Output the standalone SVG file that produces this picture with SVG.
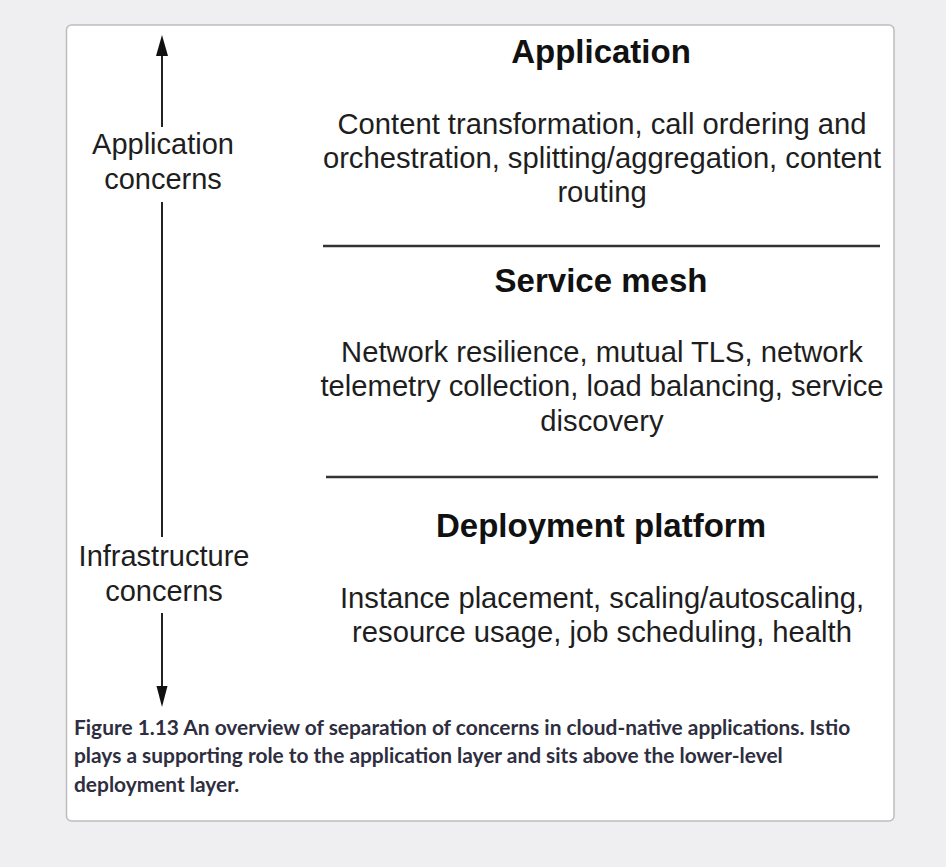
<svg xmlns="http://www.w3.org/2000/svg" width="946" height="867" viewBox="0 0 946 867">
<style>
.body{font-family:"Liberation Sans",Arial,sans-serif;font-size:29.2px;fill:#1e1e1e;text-anchor:middle}
.lbl{font-family:"Liberation Sans",Arial,sans-serif;font-size:29px;fill:#1e1e1e;text-anchor:middle}
.title{font-family:"Liberation Sans",Arial,sans-serif;font-size:33px;font-weight:bold;fill:#111;text-anchor:middle}
.cap{font-family:Lato,"Liberation Sans",sans-serif;font-size:20.9px;font-weight:bold;fill:#2e2e40}
.sep{stroke:#333;stroke-width:2.5}
.axis{stroke:#222;stroke-width:2;fill:none}
</style>
<rect width="946" height="867" fill="#efeff1"/>
<rect x="66.5" y="25" width="827.5" height="796" rx="5" fill="#fff" stroke="#bdbdbd" stroke-width="1.5"/>
<g id="connectors">
<line class="axis" x1="162" y1="56" x2="162" y2="127"/>
<path d="M156,56 L162,35 L168,56 Z" fill="#111"/>
<line class="axis" x1="162" y1="202" x2="162" y2="537"/>
<line class="axis" x1="162" y1="613" x2="162" y2="686"/>
<path d="M156.5,686 L162,707 L167.5,686 Z" fill="#111"/>
</g>
<g id="left-labels">
<text class="lbl" x="163" y="154">Application</text>
<text class="lbl" x="163" y="189">concerns</text>
<text class="lbl" x="164" y="566">Infrastructure</text>
<text class="lbl" x="164" y="601">concerns</text>
</g>
<g id="application">
<text class="title" x="601" y="63">Application</text>
<text class="body" x="602" y="134">Content transformation, call ordering and</text>
<text class="body" x="602" y="168">orchestration, splitting/aggregation, content</text>
<text class="body" x="602" y="202">routing</text>
</g>
<line class="sep" x1="323" y1="246" x2="880" y2="246"/>
<g id="service-mesh">
<text class="title" x="601" y="292">Service mesh</text>
<text class="body" x="602" y="362">Network resilience, mutual TLS, network</text>
<text class="body" x="602" y="396">telemetry collection, load balancing, service</text>
<text class="body" x="602" y="431">discovery</text>
</g>
<line class="sep" x1="326" y1="477" x2="878" y2="477"/>
<g id="deployment-platform">
<text class="title" x="601" y="537">Deployment platform</text>
<text class="body" x="602" y="608">Instance placement, scaling/autoscaling,</text>
<text class="body" x="602" y="642">resource usage, job scheduling, health</text>
</g>
<g id="caption">
<text class="cap" x="74" y="735">Figure 1.13 An overview of separation of concerns in cloud-native applications. Istio</text>
<text class="cap" x="74" y="763">plays a supporting role to the application layer and sits above the lower-level</text>
<text class="cap" x="74" y="792">deployment layer.</text>
</g>
</svg>
